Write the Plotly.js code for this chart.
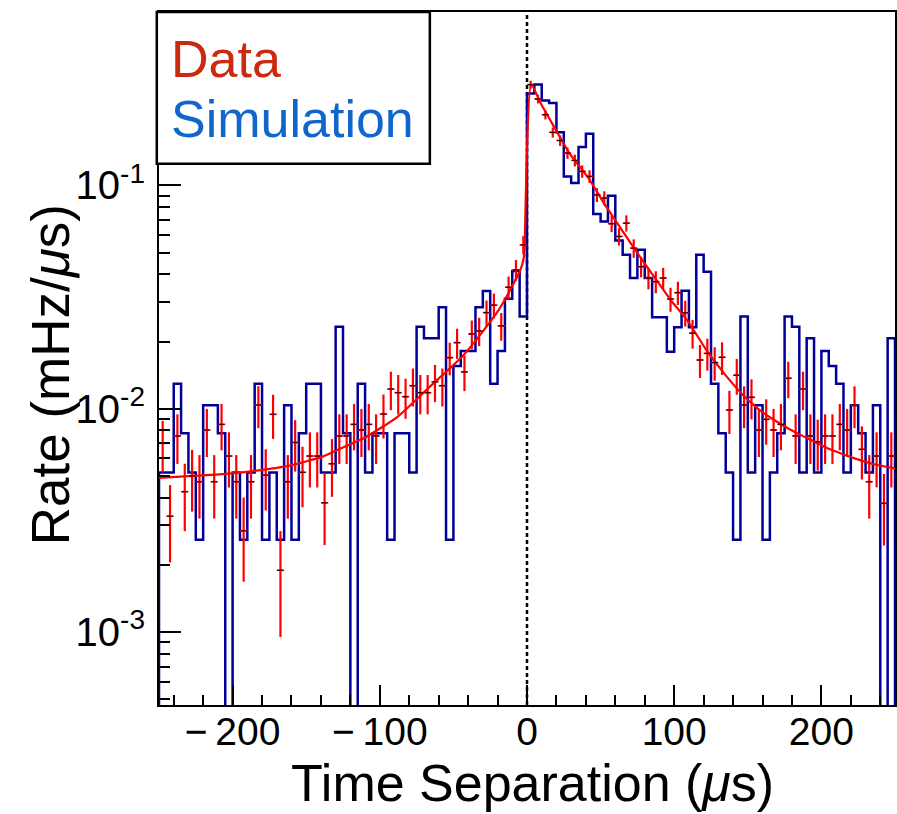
<!DOCTYPE html>
<html>
<head>
<meta charset="utf-8">
<script src="https://cdn.plot.ly/plotly-3.0.1.min.js"></script>
<style>html,body{margin:0;padding:0;background:#fff;}#chart{width:897px;height:814px;}</style>
</head>
<body>
<div id="chart"></div>
<script>
// Bin layout: 100 bins of 5 us from -250 to 250
const binLow = -250;
const binWidth = 5;

// Measured data rate (mHz/us), one value per bin
const dataRate = [
  0.0070, 0.0033, 0.00755, 0.00425, 0.0050, 0.00471, 0.00803, 0.00471, 0.00851, 0.00614,
  0.00471, 0.00284, 0.00471, 0.0104, 0.00504, 0.00944, 0.00189, 0.00471, 0.00706, 0.00519,
  0.00614, 0.00614, 0.00379, 0.00567, 0.00755, 0.00755, 0.00851, 0.00803, 0.00851, 0.00755,
  0.00947, 0.01225, 0.0118, 0.01132, 0.01268, 0.0118, 0.0118, 0.0132, 0.01268, 0.01694,
  0.01977, 0.01462, 0.02163, 0.0223, 0.02694, 0.0291, 0.0235, 0.035, 0.0419, 0.0542,
  0.283, 0.244, 0.2075, 0.1729, 0.159, 0.1398, 0.1295, 0.1156, 0.1098, 0.0908,
  0.0878, 0.0674, 0.0591, 0.0678, 0.0524, 0.0433, 0.0385, 0.0371, 0.0385, 0.031,
  0.0331, 0.0269, 0.0218, 0.01653, 0.0177, 0.0161, 0.0170, 0.00987, 0.01413, 0.01039,
  0.01125, 0.00803, 0.00896, 0.00803, 0.00851, 0.01369, 0.00755, 0.01225, 0.00755, 0.00711,
  0.00755, 0.00755, 0.00851, 0.00803, 0.01039, 0.00658, 0.00471, 0.00614, 0.00377, 0.00614
];

// Statistical error on the data rate, one per bin
const dataErr = [
  0.00182, 0.00125, 0.00189, 0.00142, 0.00154, 0.00149, 0.00195, 0.00149, 0.00200, 0.00170,
  0.00149, 0.00116, 0.00149, 0.00222, 0.00154, 0.00211, 0.00094, 0.00149, 0.00183, 0.00157,
  0.00170, 0.00170, 0.00134, 0.00164, 0.00189, 0.00189, 0.00200, 0.00195, 0.00200, 0.00189,
  0.00211, 0.00240, 0.00236, 0.00231, 0.00245, 0.00236, 0.00236, 0.00250, 0.00245, 0.00283,
  0.00305, 0.00263, 0.00320, 0.00324, 0.00357, 0.00371, 0.00333, 0.00406, 0.00445, 0.00506,
  0.01156, 0.01073, 0.00990, 0.00903, 0.00866, 0.00812, 0.00782, 0.00739, 0.00720, 0.00655,
  0.00644, 0.00564, 0.00528, 0.00566, 0.00497, 0.00452, 0.00426, 0.00418, 0.00426, 0.00382,
  0.00395, 0.00356, 0.00321, 0.00279, 0.00289, 0.00276, 0.00283, 0.00216, 0.00258, 0.00221,
  0.00230, 0.00195, 0.00206, 0.00195, 0.00200, 0.00254, 0.00189, 0.00240, 0.00189, 0.00183,
  0.00189, 0.00189, 0.00200, 0.00195, 0.00221, 0.00176, 0.00149, 0.00170, 0.00133, 0.00170
];

// Simulated rate (mHz/us), one value per bin (0 = empty bin)
const simRate = [
  0.00518, 0.00518, 0.01295, 0.00777, 0.00518, 0.00259, 0.01036, 0.01036, 0.00777, 0,
  0.00518, 0.00259, 0.00518, 0.01295, 0.00259, 0.00518, 0.00259, 0.01036, 0.00259, 0.00777,
  0.01295, 0.01295, 0.00518, 0.00518, 0.0233, 0.00777, 0, 0.01295, 0.00518, 0.00777,
  0.00777, 0.00259, 0.00777, 0.00777, 0.00518, 0.0233, 0.0207, 0.0207, 0.0285, 0.00259,
  0.01554, 0.01813, 0.01813, 0.0285, 0.0337, 0.01295, 0.01813, 0.0311, 0.0414, 0.0259,
  0.258, 0.283, 0.2405, 0.234, 0.173, 0.1098, 0.1025, 0.1487, 0.1705, 0.0746,
  0.069, 0.0899, 0.0567, 0.0489, 0.0385, 0.0515, 0.0385, 0.0257, 0.0257, 0.018,
  0.0232, 0.0338, 0.0232, 0.0489, 0.0411, 0.01295, 0.00777, 0.00518, 0.00259, 0.0259,
  0.00518, 0.01036, 0.00259, 0.00518, 0.00777, 0.0259, 0.0233, 0.00518, 0.0207, 0.00518,
  0.01813, 0.01554, 0.01295, 0.00518, 0.01036, 0.00777, 0.00518, 0.01036, 0, 0.0207
];

// Fit curve
const fitX = [-250, -230, -207, -185, -162, -139, -124, -111, -88, -66, -43, -20, -9, -4.4, -2.2, -1.7,
  2.9, 9.2, 18.2, 29.6, 40.9, 52.2, 63.6, 75, 86.3, 97.6, 109, 122.6, 133.9, 145.2, 156.6, 167.9,
  179.3, 190.6, 201.9, 213.3, 224.6, 235.9, 250];
const fitY = [0.0049, 0.00499, 0.00509, 0.00527, 0.00555, 0.0061, 0.00676, 0.00737, 0.0092, 0.01256, 0.01742, 0.0272, 0.0365, 0.042, 0.0473, 0.0515,
  0.283, 0.234, 0.184, 0.137, 0.110, 0.0834, 0.0644, 0.0498, 0.0391, 0.0307, 0.0248, 0.018, 0.0144, 0.0118, 0.01004, 0.0089,
  0.00803, 0.00737, 0.00676, 0.0063, 0.00593, 0.00564, 0.0054];

// Axis tick labels and titles
const yTickVals = [0.001, 0.01, 0.1];
const yTickText = ['10<sup>-3</sup>', '10<sup>-2</sup>', '10<sup>-1</sup>'];
const xTickVals = [-200, -100, 0, 100, 200];
const xTickText = ['\u2212\u2009200', '\u2212\u2009100', '0', '100', '200'];
const xTitle = 'Time Separation (<i>\u03bc</i>s)';
const yTitle = 'Rate (mHz/<i>\u03bc</i>s)';
const legendLabels = ['Data', 'Simulation'];

const nBins = dataRate.length;
const centers = dataRate.map((_, i) => binLow + binWidth * (i + 0.5));
const halfW = dataRate.map(() => binWidth / 2);

// Simulation outline as a step line (bins drawn from left edges)
const floorVal = 1e-5;
const simX = [binLow];
const simY = [floorVal];
for (let i = 0; i < nBins; i++) {
  simX.push(binLow + binWidth * i);
  simY.push(simRate[i] > 0 ? simRate[i] : floorVal);
}
simX.push(binLow + binWidth * nBins); simY.push(simRate[nBins - 1] > 0 ? simRate[nBins - 1] : floorVal);
simX.push(binLow + binWidth * nBins); simY.push(floorVal);

const FONT = 'Liberation Sans, Arial, Helvetica, sans-serif';

const traces = [
  {
    x: simX, y: simY, type: 'scatter', mode: 'lines',
    line: {shape: 'hv', color: '#000099', width: 2.5},
    hoverinfo: 'skip', showlegend: false
  },
  {
    x: fitX, y: fitY, type: 'scatter', mode: 'lines',
    line: {shape: 'spline', smoothing: 0.6, color: '#ff0000', width: 2.2},
    hoverinfo: 'skip', showlegend: false
  },
  {
    x: centers, y: dataRate, type: 'scatter', mode: 'markers',
    marker: {symbol: 'line-ew-open', size: 4, color: '#330000', line: {color: '#330000', width: 1.2}},
    error_y: {type: 'data', array: dataErr, visible: true, color: '#ff0000', thickness: 2.2, width: 0},
    error_x: {type: 'data', array: halfW, visible: true, color: '#ff0000', thickness: 1.6, width: 0},
    hoverinfo: 'skip', showlegend: false
  }
];

const layout = {
  width: 897, height: 814,
  margin: {l: 159, r: 2, t: 12, b: 109},
  paper_bgcolor: '#ffffff', plot_bgcolor: '#ffffff',
  font: {family: FONT, color: '#000000'},
  showlegend: false,
  xaxis: {
    range: [-250, 250],
    tickvals: xTickVals, ticktext: xTickText,
    ticks: 'inside', ticklen: 20, tickwidth: 2, tickcolor: '#000',
    minor: {dtick: 20, ticks: 'inside', ticklen: 10, tickwidth: 2, tickcolor: '#000', showgrid: false},
    showline: true, linewidth: 2, linecolor: '#000', mirror: true,
    showgrid: false, zeroline: false,
    tickfont: {size: 39, family: FONT, color: '#000'},
    ticklabelstandoff: -9
  },
  yaxis: {
    type: 'log',
    range: [-3.327, -0.223],
    tickvals: yTickVals, ticktext: yTickText,
    ticks: 'inside', ticklen: 22, tickwidth: 2, tickcolor: '#000',
    minor: {dtick: 'D1', ticks: 'inside', ticklen: 11, tickwidth: 2, tickcolor: '#000', showgrid: false},
    showline: true, linewidth: 2, linecolor: '#000', mirror: true,
    showgrid: false, zeroline: false,
    tickfont: {size: 40, family: FONT, color: '#000'},
    ticklabelstandoff: 4
  },
  shapes: [
    {type: 'line', xref: 'x', yref: 'paper', x0: 0, x1: 0, y0: 0, y1: 1,
     line: {color: '#000', width: 2.5, dash: '4px,3px'}, layer: 'below'},
    {type: 'rect', xref: 'paper', yref: 'paper', x0: -0.003, x1: 0.368, y0: 0.781, y1: 1.0,
     line: {color: '#000', width: 2.5}, fillcolor: '#ffffff', layer: 'above'}
  ],
  annotations: [
    {xref: 'paper', yref: 'paper', x: 0.013, y: 0.932, xanchor: 'left', yanchor: 'middle',
     text: legendLabels[0], showarrow: false, font: {size: 52, family: FONT, color: '#cc2a10'}},
    {xref: 'paper', yref: 'paper', x: 0.013, y: 0.845, xanchor: 'left', yanchor: 'middle',
     text: legendLabels[1], showarrow: false, font: {size: 52, family: FONT, color: '#1166cc'}},
    {xref: 'paper', yref: 'paper', x: 0.508, y: -0.113, xanchor: 'center', yanchor: 'middle',
     text: xTitle, showarrow: false, font: {size: 52, family: FONT, color: '#000'}},
    {xref: 'paper', yref: 'paper', x: -0.148, y: 0.476, xanchor: 'center', yanchor: 'middle',
     text: yTitle, textangle: -90, showarrow: false, font: {size: 53, family: FONT, color: '#000'}}
  ]
};

Plotly.newPlot('chart', traces, layout, {staticPlot: true, displayModeBar: false});
</script>
</body>
</html>
